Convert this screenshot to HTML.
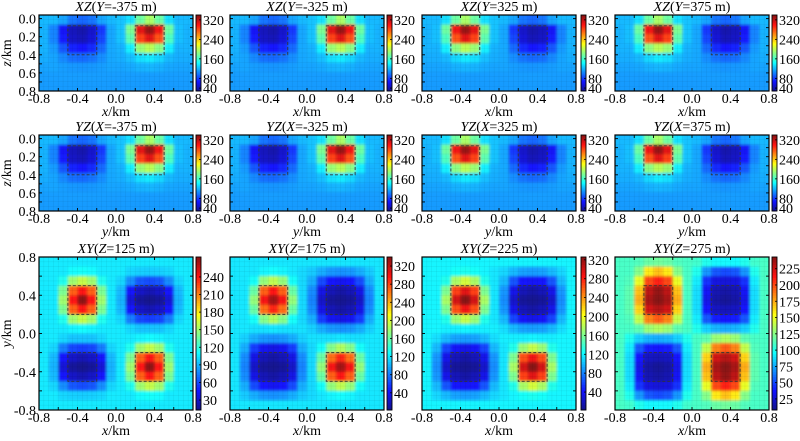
<!DOCTYPE html>
<html><head><meta charset="utf-8"><style>
html,body{margin:0;padding:0;background:#fff}
svg{display:block;font-family:"Liberation Serif",serif}
</style></head><body>
<svg id="fig" width="800" height="441" viewBox="0 0 800 441" xmlns="http://www.w3.org/2000/svg">
<defs><filter id="blur" x="-5%" y="-5%" width="110%" height="110%"><feGaussianBlur stdDeviation="1.4"/></filter></defs>
</svg>
<script>
// ---- data ----
const gridXZright = [
[122,122,115,100,95,100,115,122,125,135,175,195,175,135,122,122],
[120,105,65,45,40,50,80,116,125,180,310,335,305,175,124,120],
[120,105,70,48,44,54,84,116,125,170,285,310,280,165,124,120],
[120,112,90,72,68,75,96,117,120,140,190,200,185,140,120,120],
[118,115,106,98,96,99,108,116,118,124,135,138,132,122,118,118],
[115,115,113,111,110,111,113,115,115,117,120,121,119,116,115,115],
[113,113,113,113,113,113,113,113,113,113,113,113,113,113,113,113],
[112,112,112,112,112,112,112,112,112,112,112,112,112,112,112,112]];
const gridXZleft = [
[122,122,135,175,195,175,135,125,122,115,100,95,100,115,122,122],
[120,124,175,305,335,310,180,125,116,80,50,40,45,65,105,120],
[120,124,165,280,310,285,170,125,116,84,54,44,48,70,105,120],
[120,120,140,185,200,190,140,120,117,96,75,68,72,90,112,120],
[118,118,122,132,138,135,124,118,116,108,99,96,98,106,115,118],
[115,115,116,119,121,120,117,115,115,113,111,110,111,113,115,115],
[113,113,113,113,113,113,113,113,113,113,113,113,113,113,113,113],
[112,112,112,112,112,112,112,112,112,112,112,112,112,112,112,112]];
const gridXY125 = [
[105,105,105,105,105,105,105,105,105,105,105,105,105,105,105,105],
[105,105,105,110,112,110,105,105,105,100,98,97,98,100,105,105],
[105,105,115,150,160,150,115,105,100,80,65,62,65,80,100,105],
[105,105,140,220,240,220,140,105,92,45,30,25,30,45,92,105],
[105,105,150,240,272,240,150,105,90,35,18,15,18,35,90,105],
[105,105,140,220,240,220,140,105,92,45,30,25,30,45,92,105],
[105,105,115,150,160,150,115,105,100,75,60,58,60,75,100,105],
[105,105,105,108,110,108,105,105,105,100,95,95,95,100,105,105],
[105,105,100,95,95,95,100,105,105,105,108,110,108,105,105,105],
[105,100,75,60,58,60,75,100,105,115,150,160,150,115,105,105],
[105,92,45,30,25,30,45,92,105,140,220,240,220,140,105,105],
[105,90,35,18,15,18,35,90,105,150,240,272,240,150,105,105],
[105,92,45,30,25,30,45,92,105,140,220,240,220,140,105,105],
[105,100,80,65,62,65,80,100,105,115,150,160,150,115,105,105],
[105,105,100,98,97,98,100,105,105,105,110,112,110,105,105,105],
[105,105,105,105,105,105,105,105,105,105,105,105,105,105,105,105]];
const gridXY200 = [
[120,120,120,120,120,120,120,120,120,120,120,120,120,120,120,120],
[120,120,120,125,128,125,120,115,110,100,92,90,92,100,110,120],
[120,120,130,175,190,175,130,115,100,65,45,40,45,65,100,120],
[120,120,160,270,295,270,160,115,88,35,18,12,18,35,88,120],
[120,120,175,300,330,300,175,115,85,25,8,5,8,25,85,120],
[120,120,160,265,290,265,160,115,88,35,18,12,18,35,88,120],
[120,120,130,170,185,170,130,115,100,60,40,35,40,60,100,120],
[120,120,118,118,120,118,118,118,112,100,92,90,92,100,112,120],
[120,112,100,92,90,92,100,112,118,118,118,120,118,118,120,120],
[120,100,60,40,35,40,60,100,115,130,170,185,170,130,120,120],
[120,88,35,18,12,18,35,88,115,160,265,290,265,160,120,120],
[120,85,25,8,5,8,25,85,115,175,300,330,300,175,120,120],
[120,88,35,18,12,18,35,88,115,160,270,295,270,160,120,120],
[120,100,65,45,40,45,65,100,115,130,175,190,175,130,120,120],
[120,110,100,92,90,92,100,110,115,120,125,128,125,120,120,120],
[120,120,120,120,120,120,120,120,120,120,120,120,120,120,120,120]];
const gridXY275 = [
[110,110,112,118,120,118,112,110,108,100,95,95,95,100,108,110],
[110,110,125,160,170,160,125,110,100,70,55,52,55,70,100,110],
[110,112,150,200,210,200,150,110,92,45,30,28,30,45,92,110],
[110,115,170,230,240,230,170,110,88,35,18,15,18,35,88,110],
[110,115,175,235,245,235,175,110,88,32,15,12,15,32,88,110],
[110,115,165,225,232,225,165,110,88,38,22,20,22,38,88,110],
[110,112,140,185,195,185,140,110,92,55,40,38,40,55,92,110],
[110,110,115,130,135,130,115,110,100,85,78,76,78,85,100,110],
[110,100,85,78,76,78,85,100,110,115,130,135,130,115,110,110],
[110,92,55,40,38,40,55,92,110,140,185,195,185,140,112,110],
[110,88,38,22,20,22,38,88,110,165,225,232,225,165,115,110],
[110,88,32,15,12,15,32,88,110,175,235,245,235,175,115,110],
[110,88,35,18,15,18,35,88,110,170,230,240,230,170,115,110],
[110,92,45,30,28,30,45,92,110,150,200,210,200,150,112,110],
[110,100,70,55,52,55,70,100,110,125,160,170,160,125,110,110],
[110,108,100,95,95,95,100,108,110,112,118,120,118,112,110,110]];
const ticksCbXZ = [40,80,160,240,320];
const ticksCb320 = [40,80,120,160,200,240,280,320];
const ticksCb125 = [30,60,90,120,150,180,210,240];
const ticksCb275 = [25,50,75,100,125,150,175,200,225];
const ticksXY = [-0.8,-0.4,0.0,0.4,0.8];
const ticksZ = [0.0,0.2,0.4,0.6,0.8];
const boxesXZ = [[-0.5,-0.2,0.08,0.4],[0.2,0.5,0.08,0.4]];
const boxesXY = [[-0.5,-0.2,0.2,0.5],[0.2,0.5,0.2,0.5],[-0.5,-0.2,-0.5,-0.2],[0.2,0.5,-0.5,-0.2]];
const panels = [
 {c:0,r:0,t:['XZ','(','Y','=-375 m)'],g:gridXZright,v:[28,340],ct:ticksCbXZ,xl:'x'},
 {c:1,r:0,t:['XZ','(','Y','=-325 m)'],g:gridXZright,v:[28,340],ct:ticksCbXZ,xl:'x'},
 {c:2,r:0,t:['XZ','(','Y','=325 m)'],g:gridXZleft,v:[28,340],ct:ticksCbXZ,xl:'x'},
 {c:3,r:0,t:['XZ','(','Y','=375 m)'],g:gridXZleft,v:[28,340],ct:ticksCbXZ,xl:'x'},
 {c:0,r:1,t:['YZ','(','X','=-375 m)'],g:gridXZright,v:[28,340],ct:ticksCbXZ,xl:'y'},
 {c:1,r:1,t:['YZ','(','X','=-325 m)'],g:gridXZright,v:[28,340],ct:ticksCbXZ,xl:'y'},
 {c:2,r:1,t:['YZ','(','X','=325 m)'],g:gridXZleft,v:[28,340],ct:ticksCbXZ,xl:'y'},
 {c:3,r:1,t:['YZ','(','X','=375 m)'],g:gridXZleft,v:[28,340],ct:ticksCbXZ,xl:'y'},
 {c:0,r:2,t:['XY','(','Z','=125 m)'],g:gridXY125,v:[13,274],ct:ticksCb125,xl:'x'},
 {c:1,r:2,t:['XY','(','Z','=175 m)'],g:gridXY200,v:[2,340],ct:ticksCb320,xl:'x'},
 {c:2,r:2,t:['XY','(','Z','=225 m)'],g:gridXY200,v:[2,326],ct:ticksCb320,xl:'x'},
 {c:3,r:2,t:['XY','(','Z','=275 m)'],g:gridXY275,v:[8,243],ct:ticksCb275,xl:'x'}];

// ---- layout ----
const colL = [39,230,422,615], PW = 154;
const rowT = [15,135,257], rowH = [76,76,153];
const NS = 'http://www.w3.org/2000/svg';
const svg = document.getElementById('fig');
function mk(tag, attrs, parent){const e=document.createElementNS(NS,tag);for(const k in attrs)e.setAttribute(k,attrs[k]);(parent||svg).appendChild(e);return e;}
function jet(t){t=Math.max(0,Math.min(1,t));const f=v=>Math.round(255*Math.max(0,Math.min(1,v)));
 let r=f(1.5-Math.abs(4*t-3)),g=f(1.5-Math.abs(4*t-2)),b=f(1.5-Math.abs(4*t-1));
 const w=0.07;r=Math.round(r*(1-w)+255*w);g=Math.round(g*(1-w)+255*w);b=Math.round(b*(1-w)+255*w);
 return `rgb(${r},${g},${b})`;}
function fmt(v){return v.toFixed(1);}
const FS=14;

panels.forEach((p,i)=>{
 const L=colL[p.c], T=rowT[p.r], H=rowH[p.r], R=L+PW, B=T+H;
 const isXY = p.r===2;
 const yDom = isXY ? [0.8,-0.8] : [-0.04,0.8];
 const sx = v => L + (v+0.8)/1.6*PW;
 const sy = v => T + (v-yDom[0])/(yDom[1]-yDom[0])*H;
 const g = mk('g',{});
 
 
 const cid='clip'+i;
 const cp=mk('clipPath',{id:cid},svg.querySelector('defs'));
 mk('rect',{x:L,y:T,width:PW,height:H},cp);
 const hm = mk('g',{'clip-path':`url(#${cid})`},g);
 
 
 const hb = mk('g',{filter:'url(#blur)'},hm);
 const nr=p.g.length, nc=p.g[0].length, cw=PW/nc, ch=H/nr;
 for(let r=-1;r<=nr;r++)for(let c=-1;c<=nc;c++){
  const rr=Math.max(0,Math.min(nr-1,r)), cc=Math.max(0,Math.min(nc-1,c));
  const val=p.g[rr][cc];
  const cell=mk('rect',{x:L+c*cw,y:T+r*ch,width:cw+0.5,height:ch+0.5,fill:jet((val-p.v[0])/(p.v[1]-p.v[0]))},hb);
  
  
 }
 const nmx=32, nmy=isXY?32:16;
 for(let k=1;k<nmx;k++)mk('line',{x1:L+k*PW/nmx,x2:L+k*PW/nmx,y1:T,y2:B,stroke:'#000','stroke-opacity':0.07,'stroke-width':0.6},hm);
 for(let k=1;k<nmy;k++)mk('line',{x1:L,x2:R,y1:T+k*H/nmy,y2:T+k*H/nmy,stroke:'#000','stroke-opacity':0.07,'stroke-width':0.6},hm);
 (isXY?boxesXY:boxesXZ).forEach(b=>{
  const bx=mk('rect',{x:sx(b[0]),y:Math.min(sy(b[2]),sy(b[3])),width:sx(b[1])-sx(b[0]),height:Math.abs(sy(b[3])-sy(b[2])),fill:'none',stroke:'#333','stroke-width':0.9,'stroke-dasharray':'3,2'},hm);
  
  
 });
 const fr=mk('rect',{x:L,y:T,width:PW,height:H,fill:'none',stroke:'#000','stroke-width':1.2},g);
 
 
 for(let v=-0.8;v<=0.81;v+=0.2){const x=sx(v);
  mk('line',{x1:x,x2:x,y1:B,y2:B-3,stroke:'#000','stroke-width':0.9},g);
  mk('line',{x1:x,x2:x,y1:T,y2:T+3,stroke:'#000','stroke-width':0.9},g);}
 ticksXY.forEach(v=>{const t=mk('text',{x:sx(v),y:B+12,'font-size':FS,'text-anchor':'middle'},g);t.textContent=fmt(v);
  });
 const yt = isXY ? [-0.8,-0.6,-0.4,-0.2,0,0.2,0.4,0.6,0.8] : [0,0.1,0.2,0.3,0.4,0.5,0.6,0.7,0.8];
 yt.forEach(v=>{const y=sy(v);mk('line',{x1:L,x2:L+3,y1:y,y2:y,stroke:'#000','stroke-width':0.9},g);mk('line',{x1:R,x2:R-3,y1:y,y2:y,stroke:'#000','stroke-width':0.9},g);});
 if(p.c===0){
  (isXY?ticksXY:ticksZ).forEach(v=>{const t=mk('text',{x:L-3,y:sy(v)+5,'font-size':FS,'text-anchor':'end'},g);t.textContent=fmt(v);
   });
  const yl=mk('text',{x:0,y:0,'font-size':FS,'text-anchor':'middle',transform:`translate(11,${T+H/2}) rotate(-90)`},g);
  yl.innerHTML=isXY?'<tspan font-style="italic">y</tspan>/km':'<tspan font-style="italic">z</tspan>/km';
  
 }
 const xl=mk('text',{x:L+PW/2,y:B+25,'font-size':FS,'text-anchor':'middle'},g);
 xl.innerHTML=`<tspan font-style="italic">${p.xl}</tspan>/km`;
 
 const tt=mk('text',{x:L+PW/2,y:T-4,'font-size':FS,'text-anchor':'middle'},g);
 tt.innerHTML=`<tspan font-style="italic">${p.t[0]}</tspan>${p.t[1]}<tspan font-style="italic">${p.t[2]}</tspan>${p.t[3]}`;
 
 const cbx=R+3+(p.c===2?2:0), cbw=5;
 const cb=mk('g',{},g);
 
 
 const n=60;
 for(let k=0;k<n;k++){mk('rect',{x:cbx,y:T+H-(k+1)*H/n,width:cbw,height:H/n+0.4,fill:jet((k+0.5)/n)},cb);}
 mk('rect',{x:cbx,y:T,width:cbw,height:H,fill:'none',stroke:'#000','stroke-width':0.9},cb);
 const cy=v=>B-(v-p.v[0])/(p.v[1]-p.v[0])*H;
 p.ct.forEach(v=>{const y=cy(v);if(y<T-1||y>B+1)return;
  mk('line',{x1:cbx+cbw,x2:cbx+cbw-2,y1:y,y2:y,stroke:'#000','stroke-width':0.8},cb);
  const t=mk('text',{x:cbx+cbw+2,y:y+5,'font-size':FS},cb);t.textContent=v;
  });
});
</script>
</body></html>
